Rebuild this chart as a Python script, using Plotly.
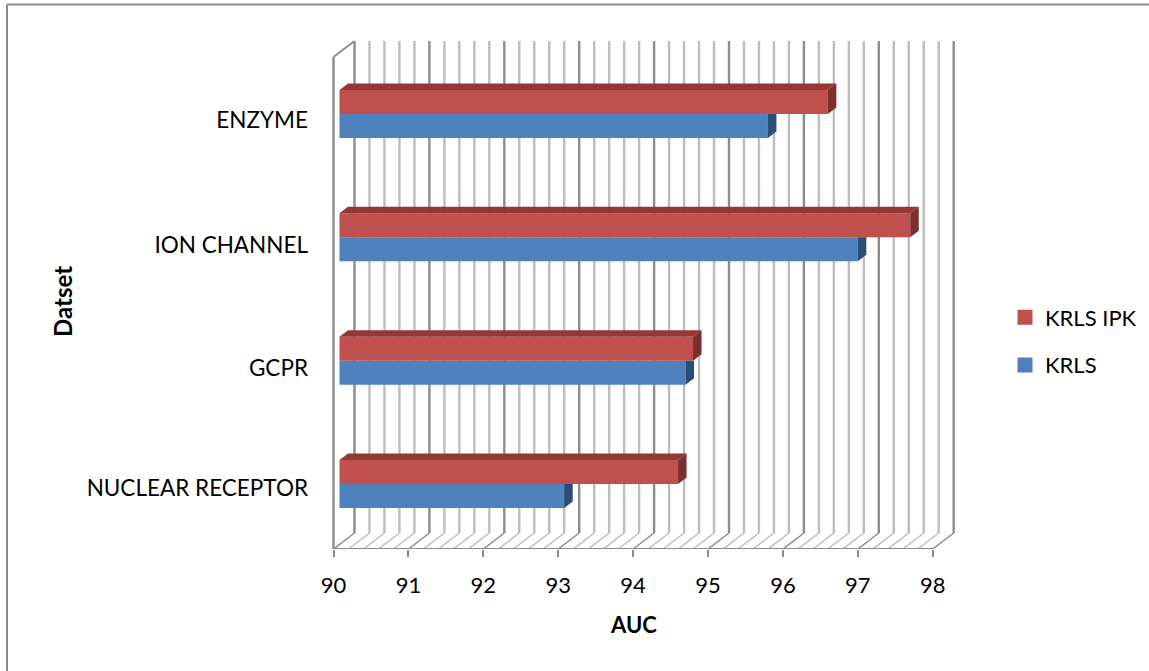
import numpy as np
import plotly.graph_objects as go

# Chart data
categories = ["NUCLEAR RECEPTOR", "GCPR", "ION CHANNEL", "ENZYME"]
krls = [93.0, 94.62, 96.92, 95.72]
krls_ipk = [94.52, 94.72, 97.62, 96.52]
axis_ticks = [90, 91, 92, 93, 94, 95, 96, 97, 98]
label_rows = [-0.03, 0.94, 1.94, 2.95]

# Canvas geometry (pixels)
W, H = 1149, 671
X0_PX, X_SCALE = 333.5, 74.9        # pixel of value 90, pixels per AUC unit
FLOOR_PX, ROW_PX, ROW0_PX = 549.0, 123.33, 484.0
WALL_DX, WALL_DY = 21.0, 16.0       # depth of the pseudo-3D box
WALL_TOP_PX = 57.0
BAR_SHIFT_PX = 6.0                  # bars sit slightly inside the box
BAR_DX, BAR_DY = 8.5, 6.5           # depth of a bar
BAR_H_PX = 24.0

RED, RED_TOP, RED_SIDE = "#C0504D", "#953735", "#7B2E2C"
BLUE, BLUE_SIDE = "#4F81BD", "#2C4D75"
GRID_MAJOR, GRID_MINOR = "#8C8C8C", "#BDBDBD"
FONT = "Lato"


def dx(px):
    return px / X_SCALE


def yv(px):
    return (ROW0_PX - px) / ROW_PX


def dy(px):
    return px / ROW_PX


fig = go.Figure()

rows = list(range(len(categories)))
base = 90 + dx(BAR_SHIFT_PX)
h = dy(BAR_H_PX)


def polygon(xs, ys, color):
    fig.add_trace(go.Scatter(x=xs, y=ys, mode="lines", fill="toself", fillcolor=color,
                             line=dict(width=0, color=color), hoverinfo="skip",
                             showlegend=False))


# Front faces
fig.add_trace(go.Bar(y=rows, x=[v - 90 for v in krls], base=base, orientation="h",
                     width=h, offset=-h, marker=dict(color=BLUE, opacity=1, line=dict(width=0)),
                     name="KRLS", showlegend=False))
fig.add_trace(go.Bar(y=rows, x=[v - 90 for v in krls_ipk], base=base, orientation="h",
                     width=h, offset=0, marker=dict(color=RED, opacity=1, line=dict(width=0)),
                     name="KRLS IPK", showlegend=False))

# Side and top faces follow the value of each bar
for r, vb, vr in zip(rows, krls, krls_ipk):
    xb, xr = vb + dx(BAR_SHIFT_PX), vr + dx(BAR_SHIFT_PX)
    polygon([xb, xb + dx(BAR_DX), xb + dx(BAR_DX), xb],
            [r, r, r - h + dy(BAR_DY), r - h], BLUE_SIDE)
    polygon([xr, xr + dx(BAR_DX), xr + dx(BAR_DX), xr],
            [r + h, r + h + dy(BAR_DY), r + dy(BAR_DY), r], RED_SIDE)
    polygon([base, base + dx(BAR_DX), xr + dx(BAR_DX), xr],
            [r + h, r + h + dy(BAR_DY), r + h + dy(BAR_DY), r + h], RED_TOP)

# Legend entries
for name, color in (("KRLS IPK", RED), ("KRLS", BLUE)):
    fig.add_trace(go.Scatter(x=[None], y=[None], mode="markers", name=name, legendgroup=name,
                             marker=dict(symbol="square", size=15, color=color)))

# Wall and floor gridlines, drawn underneath the bars
shapes = []


def line(x0, y0, x1, y1, color, width=2.0):
    shapes.append(dict(type="line", layer="below", xref="x", yref="y", x0=x0, y0=y0, x1=x1, y1=y1,
                       line=dict(color=color, width=width)))


floor_y, top_y = yv(FLOOR_PX), yv(WALL_TOP_PX)
back_dx, back_dy = dx(WALL_DX), dy(WALL_DY)
for step in range(41):
    v = 90 + step * 0.2
    major = step % 5 == 0
    color = GRID_MAJOR if major else GRID_MINOR
    line(v + back_dx, top_y + back_dy, v + back_dx, floor_y + back_dy, color, 2.4)
    line(v, floor_y, v + back_dx, floor_y + back_dy, color, 1.5)

# Front edges of the box
line(90, floor_y, 98, floor_y, GRID_MAJOR)
line(90, floor_y, 90, top_y, GRID_MAJOR, 2.4)
line(90, top_y, 90 + back_dx, top_y + back_dy, GRID_MAJOR)

# Chart area border: top and left edges
for x0, y0, x1, y1 in ((7, 4.5, W, 4.5), (7, 4.5, 7, H)):
    shapes.append(dict(type="line", layer="below", xref="paper", yref="paper",
                       x0=x0 / W, x1=x1 / W, y0=1 - y0 / H, y1=1 - y1 / H,
                       line=dict(color="#8C8C8C", width=2)))

fig.update_layout(
    width=W, height=H, autosize=False,
    margin=dict(l=0, r=0, t=0, b=0),
    paper_bgcolor="white", plot_bgcolor="rgba(0,0,0,0)",
    font=dict(family=FONT, size=22, color="black"),
    barmode="overlay",
    shapes=shapes,
    xaxis=dict(range=[90 - X0_PX / X_SCALE, 90 + (W - X0_PX) / X_SCALE], domain=[0, 1],
               tickvals=axis_ticks, ticktext=[str(t) for t in axis_ticks],
               ticks="outside", ticklen=7, tickwidth=2, tickcolor=GRID_MAJOR,
               ticklabelstandoff=10, showgrid=False, zeroline=False, showline=False,
               tickfont=dict(size=22)),
    yaxis=dict(range=[yv(FLOOR_PX), yv(0)], domain=[(H - FLOOR_PX) / H, 1],
               anchor="free", position=308 / W, tickvals=label_rows, ticktext=categories,
               ticks="", showgrid=False, zeroline=False, showline=False,
               tickfont=dict(size=22.5)),
    legend=dict(x=1005 / W, xanchor="left", y=1 - 296.5 / H, yanchor="top",
                tracegroupgap=16, font=dict(size=22), bgcolor="rgba(0,0,0,0)"),
    annotations=[
        dict(text="<b>AUC</b>", xref="paper", yref="paper", x=633 / W, y=1 - 624 / H,
             xanchor="center", yanchor="middle", showarrow=False, font=dict(size=22)),
        dict(text="<b>Datset</b>", xref="paper", yref="paper", x=62 / W, y=1 - 302 / H,
             xanchor="center", yanchor="middle", showarrow=False, textangle=-90, font=dict(size=24)),
    ],
)

fig.write_html("out.html")
